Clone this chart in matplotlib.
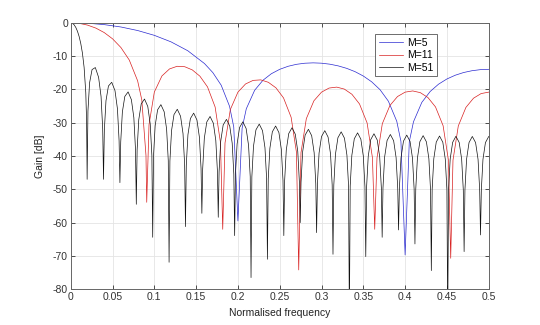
import matplotlib
matplotlib.use('Agg')
import matplotlib.pyplot as plt
import numpy as np

plt.rcParams['font.family'] = ['Liberation Sans', 'DejaVu Sans']

# M=5 moving average, gain
freq5 = [0, 0.02, 0.04, 0.06, 0.08, 0.10, 0.12, 0.14, 0.16, 0.17, 0.18, 0.19, 0.195, 0.2,
         0.205, 0.21, 0.22, 0.23, 0.24, 0.25, 0.26, 0.27, 0.28, 0.29, 0.30, 0.31, 0.32, 0.33,
         0.34, 0.35, 0.36, 0.37, 0.38, 0.39, 0.395, 0.4,
         0.405, 0.41, 0.42, 0.43, 0.44, 0.45, 0.46, 0.47, 0.48, 0.49, 0.50]
gain5 = [0, -0.14, -0.56, -1.27, -2.33, -3.78, -5.74, -8.40, -12.25, -14.97, -18.76, -25.09, -31.28, -59.5,
         -31.66, -25.84, -20.27, -17.25, -15.30, -13.98, -13.07, -12.48, -12.15, -12.04, -12.14, -12.44, -12.95, -13.68,
         -14.67, -15.99, -17.73, -20.09, -23.55, -29.56, -35.61, -69.7,
         -35.7, -29.74, -23.90, -20.63, -18.44, -16.88, -15.75, -14.94, -14.40, -14.08, -13.98]

# M=11
freq11 = [0, 0.01, 0.02, 0.03, 0.04, 0.05, 0.06, 0.07, 0.08, 0.085, 0.09, 0.0909,
          0.09364, 0.1, 0.10909, 0.11818, 0.12727, 0.13636, 0.14545, 0.15455, 0.16364, 0.17273, 0.17909, 0.18182,
          0.18455, 0.19091, 0.2, 0.20909, 0.21818, 0.22727, 0.23636, 0.24545, 0.25455, 0.26364, 0.27, 0.27273,
          0.27545, 0.28182, 0.29091, 0.3, 0.30909, 0.31818, 0.32727, 0.33636, 0.34545, 0.35455, 0.36091, 0.36364,
          0.36636, 0.37273, 0.38182, 0.39091, 0.4, 0.40909, 0.41818, 0.42727, 0.43636, 0.44545, 0.45182, 0.45455,
          0.45727, 0.46364, 0.47273, 0.48182, 0.49091, 0.5]
gain11 = [0, -0.17, -0.70, -1.60, -2.94, -4.82, -7.43, -11.18, -17.42, -23.14, -39.8, -53.9,
          -30.6, -20.8, -15.97, -13.86, -13.07, -13.20, -14.16, -16.05, -19.27, -25.29, -35.9, -62.0,
          -36.1, -26.06, -20.83, -18.38, -17.30, -17.15, -17.87, -19.53, -22.56, -28.37, -38.86, -74.2,
          -38.99, -28.8, -23.42, -20.83, -19.60, -19.32, -19.91, -21.47, -24.38, -30.09, -40.5, -62.0,
          -40.57, -30.31, -24.84, -22.15, -20.83, -20.47, -20.98, -22.44, -25.27, -30.9, -41.26, -70.7,
          -41.28, -30.97, -25.42, -22.65, -21.26, -20.83]

# M=51, frequency given in bins of 1/51
bins51 = [0, 0.102, 0.204, 0.306, 0.408, 0.51, 0.612, 0.714, 0.816, 0.918, 0.969, 1,
          1.05, 1.15, 1.3, 1.5, 1.7, 1.85, 1.95, 2,
          2.05, 2.15, 2.3, 2.5, 2.7, 2.85, 2.95, 3,
          3.05, 3.15, 3.3, 3.5, 3.7, 3.85, 3.95, 4,
          4.05, 4.15, 4.3, 4.5, 4.7, 4.85, 4.95, 5,
          5.05, 5.15, 5.3, 5.5, 5.7, 5.85, 5.95, 6,
          6.05, 6.15, 6.3, 6.5, 6.7, 6.85, 6.95, 7,
          7.05, 7.15, 7.3, 7.5, 7.7, 7.85, 7.95, 8,
          8.05, 8.15, 8.3, 8.5, 8.7, 8.85, 8.95, 9,
          9.05, 9.15, 9.3, 9.5, 9.7, 9.85, 9.95, 10,
          10.05, 10.15, 10.3, 10.5, 10.7, 10.85, 10.95, 11,
          11.05, 11.15, 11.3, 11.5, 11.7, 11.85, 11.95, 12,
          12.05, 12.15, 12.3, 12.5, 12.7, 12.85, 12.95, 13,
          13.05, 13.15, 13.3, 13.5, 13.7, 13.85, 13.95, 14,
          14.05, 14.15, 14.3, 14.5, 14.7, 14.85, 14.95, 15,
          15.05, 15.15, 15.3, 15.5, 15.7, 15.85, 15.95, 16,
          16.05, 16.15, 16.3, 16.5, 16.7, 16.85, 16.95, 17,
          17.05, 17.15, 17.3, 17.5, 17.7, 17.85, 17.95, 18,
          18.05, 18.15, 18.3, 18.5, 18.7, 18.85, 18.95, 19,
          19.05, 19.15, 19.3, 19.5, 19.7, 19.85, 19.95, 20,
          20.05, 20.15, 20.3, 20.5, 20.7, 20.85, 20.95, 21,
          21.05, 21.15, 21.3, 21.5, 21.7, 21.85, 21.95, 22,
          22.05, 22.15, 22.3, 22.5, 22.7, 22.85, 22.95, 23,
          23.05, 23.15, 23.3, 23.5, 23.7, 23.85, 23.95, 24,
          24.05, 24.15, 24.3, 24.5, 24.7, 24.85, 24.95, 25,
          25.05, 25.15, 25.3, 25.5]
gain51 = [0, -0.15, -0.60, -1.38, -2.52, -4.10, -6.23, -9.15, -13.42, -21.01, -29.91, -47.0,
          -26.48, -18.02, -14.06, -13.45, -16.39, -22.15, -31.85, -47.0,
          -32.26, -23.42, -18.99, -17.87, -20.38, -25.87, -35.42, -48.0,
          -35.77, -26.77, -22.11, -20.76, -23.09, -28.48, -37.97, -54.5,
          -38.16, -29.10, -24.36, -22.90, -25.12, -30.42, -39.86, -64.4,
          -40.01, -30.91, -26.12, -24.58, -26.72, -31.97, -41.37, -71.9,
          -41.51, -32.39, -27.56, -25.97, -28.06, -33.27, -42.65, -61.2,
          -42.76, -33.61, -28.76, -27.13, -29.19, -34.37, -43.72, -57.2,
          -43.82, -34.67, -29.79, -28.13, -30.16, -35.31, -44.66, -58.4,
          -44.75, -35.58, -30.68, -29.00, -31.00, -36.14, -45.47, -63.9,
          -45.54, -36.36, -31.45, -29.75, -31.73, -36.86, -46.18, -76.5,
          -46.25, -37.06, -32.14, -30.42, -32.39, -37.50, -46.81, -71.0,
          -46.86, -37.67, -32.73, -31.00, -32.95, -38.05, -47.36, -63.9,
          -47.41, -38.21, -33.26, -31.52, -33.46, -38.55, -47.85, -60.0,
          -47.90, -38.69, -33.73, -31.98, -33.91, -38.99, -48.28, -63.0,
          -48.33, -39.12, -34.15, -32.39, -34.31, -39.38, -48.67, -69.5,
          -48.71, -39.49, -34.52, -32.75, -34.66, -39.73, -49.01, -90.0,
          -49.03, -39.81, -34.83, -33.05, -34.95, -40.01, -49.29, -70.2,
          -49.32, -40.09, -35.11, -33.32, -35.21, -40.27, -49.54, -64.4,
          -49.56, -40.33, -35.34, -33.54, -35.42, -40.47, -49.74, -62.2,
          -49.76, -40.53, -35.54, -33.73, -35.60, -40.65, -49.92, -66.4,
          -49.94, -40.70, -35.70, -33.89, -35.76, -40.80, -50.06, -74.4,
          -50.06, -40.82, -35.82, -34.00, -35.86, -40.90, -50.16, -90.0,
          -50.16, -40.92, -35.91, -34.08, -35.93, -40.96, -50.22, -68.7,
          -50.23, -40.98, -35.96, -34.13, -35.98, -41.00, -50.26, -63.7,
          -50.26, -41.01, -35.99, -34.15]

labels = ['M=5', 'M=11', 'M=51']
xticks = [0, 0.05, 0.1, 0.15, 0.2, 0.25, 0.3, 0.35, 0.4, 0.45, 0.5]
xticklabels = ['0', '0.05', '0.1', '0.15', '0.2', '0.25', '0.3', '0.35', '0.4', '0.45', '0.5']
yticks = [-80, -70, -60, -50, -40, -30, -20, -10, 0]


def main():
    fig = plt.figure(figsize=(5.4, 3.25), dpi=100)
    ax = fig.add_axes([0.131, 0.110, 0.774, 0.820])

    freq51 = np.array(bins51) / 51.0
    ax.plot(freq5, gain5, color='#2a2ad0', lw=0.5, label=labels[0])
    ax.plot(freq11, gain11, color='#d82020', lw=0.5, label=labels[1])
    ax.plot(freq51, gain51, color='#111111', lw=0.5, label=labels[2])

    ax.set_xlim(0, 0.5)
    ax.set_ylim(-80, 0)
    ax.set_xticks(xticks)
    ax.set_xticklabels(xticklabels)
    ax.set_yticks(yticks)
    ax.set_yticklabels([str(t) for t in yticks])
    ax.grid(True, color='#e4e4e4', lw=0.6, linestyle='-')
    ax.set_axisbelow(True)
    ax.tick_params(direction='in', length=3, width=0.6, top=True, right=True,
                   labelsize=7.5, colors='#333333', pad=2)
    for s in ax.spines.values():
        s.set_color('#666666')
        s.set_linewidth(0.7)

    ax.set_xlabel('Normalised frequency', fontsize=7.5, labelpad=4, color='#222222')
    ax.set_ylabel('Gain [dB]', fontsize=7.5, labelpad=6, color='#222222')

    leg = ax.legend(loc='upper left', bbox_to_anchor=(0.728, 0.958), fontsize=7.5,
                    handlelength=2.3, handletextpad=0.4, borderpad=0.35,
                    labelspacing=0.25, fancybox=False, framealpha=1, borderaxespad=0)
    leg.get_frame().set_edgecolor('#555555')
    leg.get_frame().set_linewidth(0.6)

    fig.savefig('out.png', dpi=100)


if __name__ == '__main__':
    main()
